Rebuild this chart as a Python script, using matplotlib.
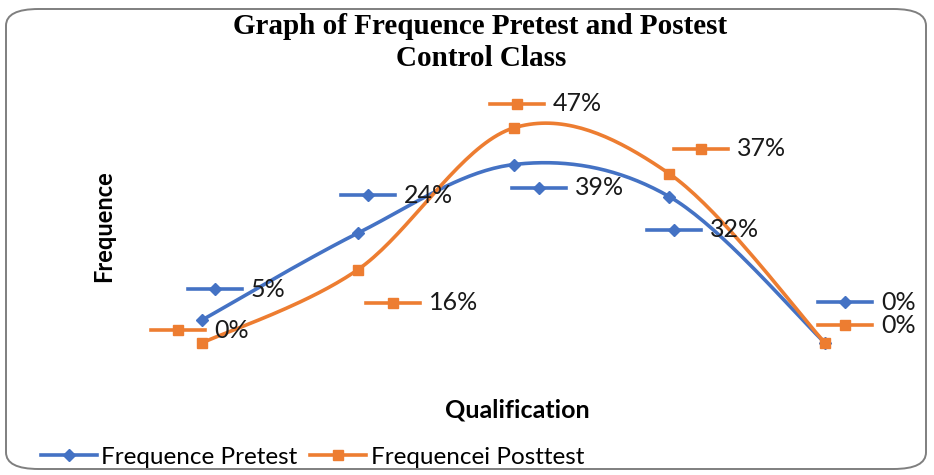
import numpy as np
import matplotlib
matplotlib.use("Agg")
import matplotlib.pyplot as plt
from matplotlib.patches import FancyBboxPatch
from matplotlib.lines import Line2D

categories = ["1", "2", "3", "4", "5"]
pretest = [5, 24, 39, 32, 0]
posttest = [0, 16, 47, 37, 0]

BLUE = "#4472C4"
ORANGE = "#ED7D31"

# label key offsets from each point in pixels (dx right, dy down)
pre_off = [(13, -31), (10, -38), (25, 23), (5, 33), (20, -41)]
post_off = [(-24, -13), (35, 33), (3, -24), (32, -25), (20, -18)]


def smooth(xs, ys, n=40):
    # Catmull-Rom like Excel's smoothed line
    xs = np.asarray(xs, float)
    ys = np.asarray(ys, float)
    px = np.concatenate([[xs[0]], xs, [xs[-1]]])
    py = np.concatenate([[ys[0]], ys, [ys[-1]]])
    outx, outy = [], []
    for i in range(1, len(px) - 2):
        p0 = np.array([px[i - 1], py[i - 1]])
        p1 = np.array([px[i], py[i]])
        p2 = np.array([px[i + 1], py[i + 1]])
        p3 = np.array([px[i + 2], py[i + 2]])
        c1 = p1 + (p2 - p0) / 6
        c2 = p2 - (p3 - p1) / 6
        t = np.linspace(0, 1, n)[:, None]
        b = (1 - t) ** 3 * p1 + 3 * (1 - t) ** 2 * t * c1 + 3 * (1 - t) * t ** 2 * c2 + t ** 3 * p2
        outx.extend(b[:, 0])
        outy.extend(b[:, 1])
    return outx, outy


fig = plt.figure(figsize=(9.34, 4.75), dpi=100)
fig.patch.set_facecolor("white")
fig.patches.append(FancyBboxPatch((6 / 934, 6 / 475), 920 / 934, 460 / 475,
                                  boxstyle="round,pad=0,rounding_size=0.035",
                                  transform=fig.transFigure, fill=False,
                                  edgecolor="#7f7f7f", linewidth=1.4))

ax = fig.add_axes([124 / 934, 105 / 475, 779 / 934, 280 / 475])
ax.set_xlim(-0.5, 4.5)
ax.set_ylim(-5.9, 55.3)
ax.axis("off")

x = np.arange(len(categories))
for vals, color, marker, ms in [(pretest, BLUE, "D", 6), (posttest, ORANGE, "s", 7)]:
    sx, sy = smooth(x, vals)
    ax.plot(sx, sy, color=color, lw=2.6, solid_capstyle="round", zorder=3)
    ax.plot(x, vals, ls="none", marker=marker, color=color, ms=ms, zorder=4)

inv = ax.transData.inverted()
for vals, offs, color, marker, ms in [(pretest, pre_off, BLUE, "D", 6),
                                      (posttest, post_off, ORANGE, "s", 7)]:
    for i, (v, (dx, dy)) in enumerate(zip(vals, offs)):
        px, py = ax.transData.transform((i, v))
        cx, cy = px + dx, py - dy
        (x0, y0), (x1, y1), (xc, yc), (xt, yt) = inv.transform(
            [(cx - 27, cy), (cx + 27, cy), (cx, cy), (cx + 36, cy)])
        ax.plot([x0, x1], [y0, y1], color=color, lw=2.6, clip_on=False, zorder=2)
        ax.plot([xc], [yc], marker=marker, color=color, ms=ms, clip_on=False, zorder=2)
        ax.text(xt, yt, f"{v}%", fontsize=18, family="Lato", color="#1a1a1a",
                va="center", ha="left", zorder=5)

fig.text(480 / 934, 1 - 26 / 475, "Graph of Frequence Pretest and Postest",
         ha="center", va="center", fontsize=21, fontweight="bold", family="Liberation Serif")
fig.text(481 / 934, 1 - 58 / 475, "Control Class",
         ha="center", va="center", fontsize=21, fontweight="bold", family="Liberation Serif")
fig.text(104 / 934, 1 - 226 / 475, "Frequence", rotation=90, ha="center", va="center",
         fontsize=17, fontweight="bold", family="Lato")
fig.text(517 / 934, 1 - 410 / 475, "Qualification", ha="center", va="center",
         fontsize=18, fontweight="bold", family="Lato")

handles = [Line2D([], [], color=BLUE, lw=2.6, marker="D", ms=6),
           Line2D([], [], color=ORANGE, lw=2.6, marker="s", ms=7)]
fig.legend(handles, ["Frequence Pretest", "Frequencei Posttest"], loc="center left",
           bbox_to_anchor=(31 / 934, 1 - 457 / 475), ncol=2, frameon=False,
           prop={"family": "Lato", "size": 17.5}, handlelength=2.3, handletextpad=0.2,
           columnspacing=0.5, borderaxespad=0)

fig.savefig("out.png", dpi=100)
